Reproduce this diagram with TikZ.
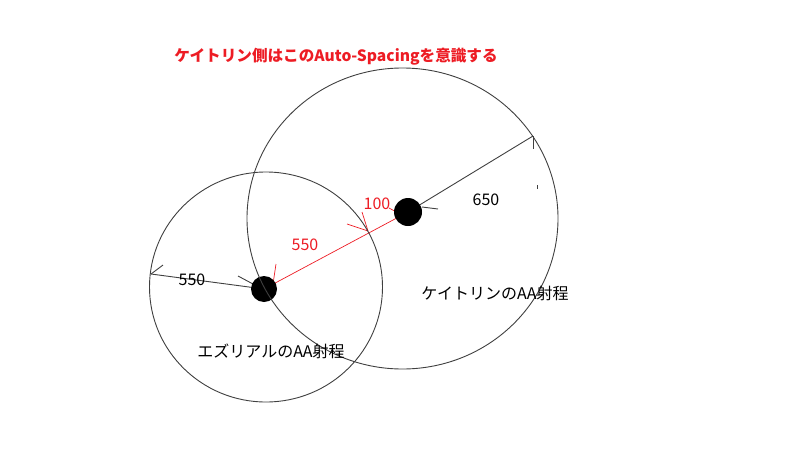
\documentclass[tikz,border=0pt]{standalone}
\usepackage{fontspec}
\setmainfont{Noto Sans CJK JP}
\usepackage{tikz}
\usetikzlibrary{backgrounds}
\usepackage{xcolor}
\definecolor{paintred}{RGB}{237,28,36}

\begin{document}
\begin{tikzpicture}[x=1pt, y=-1pt,
    ring/.style={draw=black!75, line width=0.9pt},
    dot/.style={circle, fill=black, inner sep=0pt},
    radius line/.style={black!75, line width=0.9pt},
    gap line/.style={paintred, line width=0.7pt},
    lbl/.style={font=\fontsize{16}{18}\selectfont, inner sep=0pt}]
    \useasboundingbox (0, 0) rectangle (800, 450);

    % Title
    \node[lbl, paintred, font=\fontsize{15.6}{18}\selectfont\bfseries] (title) at (336, 57) {ケイトリン側はこのAuto-Spacingを意識する};

    % Ezreal
    \coordinate (ezC) at (266, 287);
    \draw[ring] (ezC) ellipse [x radius=116.5, y radius=115];
    \node[dot, minimum size=26pt] (ez) at (264, 289) {};

    % Caitlyn
    \coordinate (ktC) at (402.5, 218.5);
    \draw[ring] (ktC) ellipse [x radius=155.5, y radius=150.5];
    \node[dot, minimum size=28pt] (kt) at (408, 212) {};

    % Edge points
    \coordinate (ezEdge) at (151, 274);
    \coordinate (ktEdge) at (533, 136);
    \coordinate (cross) at (368, 231);

    \begin{scope}[on background layer]
        % Range of Ezreal
        \draw[radius line] (ez.center) -- (ezEdge);
        \draw[radius line] (ezEdge) -- (163, 265);
        \draw[radius line] (238, 276) -- (253, 284);
        % Range of Caitlyn
        \draw[radius line] (kt.center) -- (ktEdge);
        \draw[radius line] (ktEdge) -- (533, 149);
        \draw[radius line] (422, 207) -- (438, 209);
        \draw[radius line] (537, 185) -- (537, 189);
        % Gap
        \draw[gap line] (ez.center) -- (kt.center);
        \draw[gap line] (276, 264) -- (273, 284);
        \draw[gap line] (347, 224) -- (cross);
        \draw[gap line] (362, 212) -- (cross);
        \draw[gap line] (389, 208) -- (400, 214);
    \end{scope}

    % Labels
    \node[lbl] (ezNum) at (192, 280) {550};
    \node[lbl, paintred] (gapNum) at (305, 245) {550};
    \node[lbl, paintred] (restNum) at (377, 204) {100};
    \node[lbl] (ktNum) at (486, 200) {650};
    \node[lbl] (ktName) at (495, 293) {ケイトリンのAA射程};
    \node[lbl] (ezName) at (271, 351) {エズリアルのAA射程};
\end{tikzpicture}
\end{document}
